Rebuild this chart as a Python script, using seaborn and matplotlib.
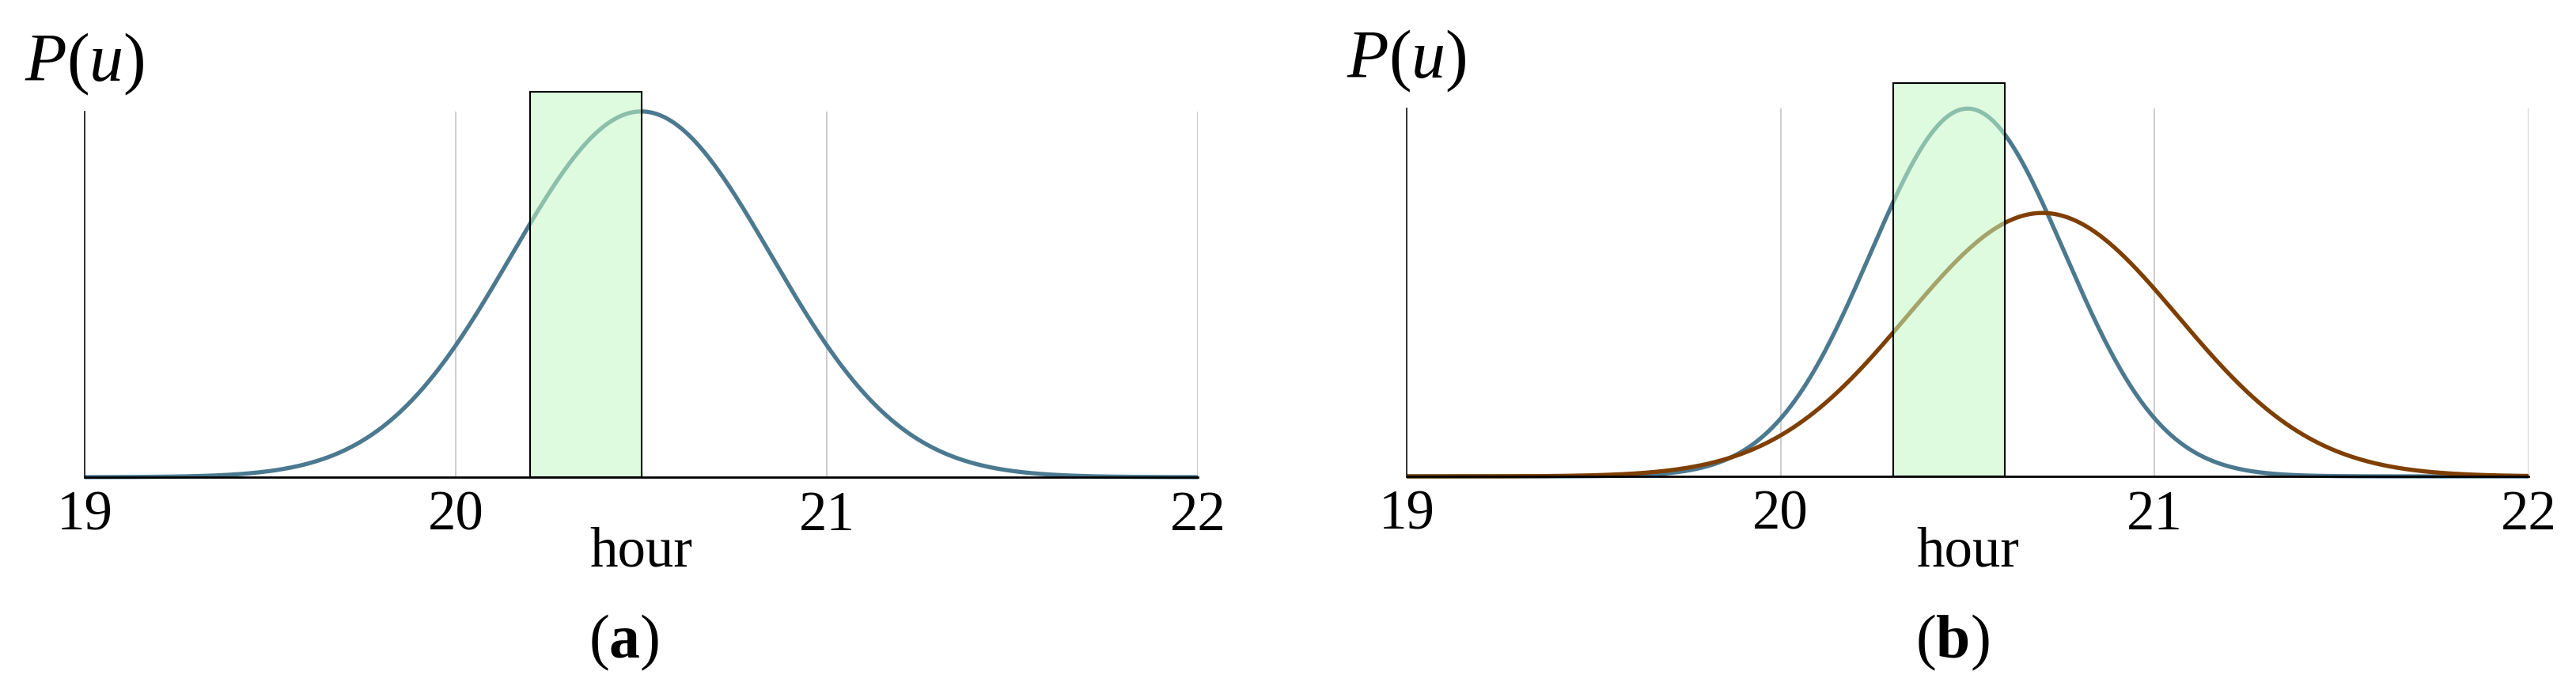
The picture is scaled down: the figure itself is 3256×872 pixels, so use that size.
import numpy as np
import pandas as pd
import matplotlib
matplotlib.use("Agg")
import matplotlib.pyplot as plt
from matplotlib.patches import Rectangle
import seaborn as sns

# x axis
hour_ticks = [19, 20, 21, 22]

# panel (a): one arrival-time distribution and the chosen window
a_names = ["arrival"]
a_centers = [20.5]
a_spreads = [0.35]
a_colors = ["#4b7990"]
a_window = [20.2, 20.5]
a_window_top = 1.20

# panel (b): two distributions and the chosen window
b_names = ["arrival", "shifted"]
b_centers = [20.5, 20.7]
b_spreads = [0.26, 0.363]
b_colors = ["#4b7990", "#7f3f00"]
b_window = [20.3, 20.6]
b_window_top = 1.64

panel_tags = ["a", "b"]

sns.set_style("white")
plt.rcParams["font.family"] = ["Liberation Serif", "DejaVu Serif"]
plt.rcParams["mathtext.fontset"] = "custom"
plt.rcParams["mathtext.rm"] = "Liberation Serif"
plt.rcParams["mathtext.it"] = "Liberation Serif:italic"
plt.rcParams["mathtext.bf"] = "Liberation Serif:bold"
plt.rcParams["text.color"] = "black"
plt.rcParams["axes.labelcolor"] = "black"
plt.rcParams["xtick.color"] = "black"


def density_frame(names, centers, spreads):
    hours = np.linspace(hour_ticks[0], hour_ticks[-1], 601)
    rows = []
    for name, mu, sd in zip(names, centers, spreads):
        dens = np.exp(-0.5 * ((hours - mu) / sd) ** 2) / (sd * np.sqrt(2 * np.pi))
        rows.append(pd.DataFrame({"hour": hours, "density": dens, "curve": name}))
    return pd.concat(rows, ignore_index=True)


def draw_panel(ax, names, centers, spreads, colors, window, window_top):
    df = density_frame(names, centers, spreads)
    sns.lineplot(data=df, x="hour", y="density", hue="curve", hue_order=names,
                 palette=colors, linewidth=3.8, legend=False, ax=ax)
    for line in ax.lines:
        line.set_clip_on(False)
        line.set_solid_capstyle("butt")

    ax.add_patch(Rectangle((window[0], 0), window[1] - window[0], window_top,
                           facecolor=(197 / 255, 249 / 255, 197 / 255, 0.54),
                           edgecolor="black", linewidth=1.5, clip_on=False, zorder=3))

    ax.set_xlim(hour_ticks[0], hour_ticks[-1])
    ax.set_ylim(0, df["density"].max())
    ax.set_xticks(hour_ticks)
    ax.set_yticks([])
    ax.xaxis.grid(True, color="#c0c0c0", linewidth=1.1)
    ax.yaxis.grid(False)
    ax.tick_params(axis="x", length=0, pad=12, labelsize=51, labelcolor="black")
    ax.spines[["top", "right"]].set_visible(False)
    ax.spines["left"].set_color("#222222")
    ax.spines["left"].set_linewidth(1.3)
    ax.spines["bottom"].set_color("black")
    ax.spines["bottom"].set_linewidth(2.0)
    ax.spines["bottom"].set_zorder(4)

    ax.set_ylabel("")
    ax.set_xlabel("hour", fontsize=51, color="black")
    ax.xaxis.set_label_coords(0.5, -0.244)
    ax.xaxis.label.set_verticalalignment("baseline")
    ax.annotate(r"$P(u)$", xy=(0, 1), xycoords="axes fraction", xytext=(0, 43),
                textcoords="offset points", ha="center", va="center", fontsize=62,
                color="black")


fig = plt.figure(figsize=(32.56, 8.72), dpi=100)
ax_a = fig.add_axes([0.0329, 0.3085, 0.4321, 0.530])
ax_b = fig.add_axes([0.5461, 0.3096, 0.4355, 0.533])

draw_panel(ax_a, a_names, a_centers, a_spreads, a_colors, a_window, a_window_top)
draw_panel(ax_b, b_names, b_centers, b_spreads, b_colors, b_window, b_window_top)

for xpos, tag in zip([0.2423, 0.7580], panel_tags):
    fig.text(xpos, 0.069, "($\\mathbf{" + tag + "}$)", ha="center", va="center",
             fontsize=56, color="black")

fig.savefig("out.png", dpi=100)
